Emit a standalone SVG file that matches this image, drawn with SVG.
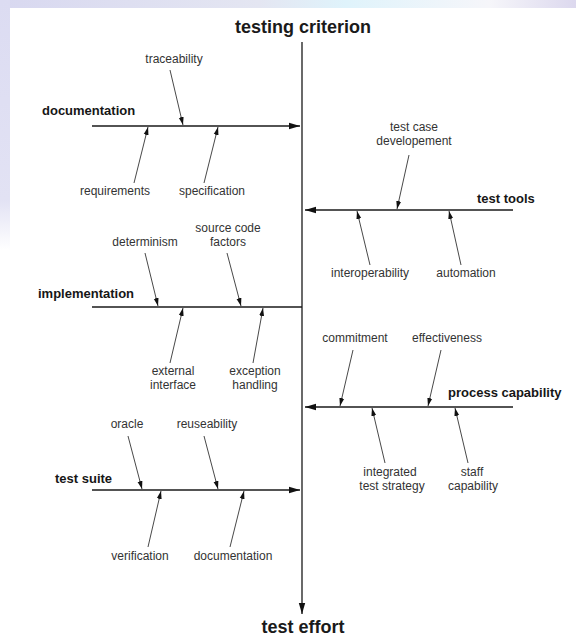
<svg xmlns="http://www.w3.org/2000/svg" width="576" height="639" viewBox="0 0 576 639">
<defs>
<linearGradient id="topband" x1="0" y1="0" x2="1" y2="0">
<stop offset="0" stop-color="#d8d8f0"/>
<stop offset="0.45" stop-color="#e4e6f2"/>
<stop offset="0.6" stop-color="#dff3fb"/>
<stop offset="0.85" stop-color="#f6f6fa"/>
<stop offset="1" stop-color="#dcd8ee"/>
</linearGradient>
<linearGradient id="leftband" x1="0" y1="0" x2="0" y2="1">
<stop offset="0" stop-color="#dcdcf2"/>
<stop offset="0.8" stop-color="#e2e2f4"/>
<stop offset="1" stop-color="#ffffff"/>
</linearGradient>
<marker id="big" markerUnits="userSpaceOnUse" markerWidth="12" markerHeight="8" refX="11" refY="4" orient="auto">
<path d="M0,0.8 L11,4 L0,7.2 Z" fill="#111"/>
</marker>
<marker id="small" markerUnits="userSpaceOnUse" markerWidth="9" markerHeight="6" refX="8" refY="3" orient="auto">
<path d="M0,0.5 L8,3 L0,5.5 Z" fill="#111"/>
</marker>
</defs>
<style>
.bg{fill:#ffffff}
.main{stroke:#1a1a1a;stroke-width:1.3;fill:none}
.sub{stroke:#333;stroke-width:0.9;fill:none}
.t{font-family:"Liberation Sans",Arial,sans-serif;font-size:12px;fill:#333;text-anchor:middle}
.b{font-family:"Liberation Sans",Arial,sans-serif;font-size:13px;font-weight:bold;fill:#161616}
.h{font-family:"Liberation Sans",Arial,sans-serif;font-size:18px;font-weight:bold;fill:#1a1a1a;text-anchor:middle}
</style>
<rect class="bg" x="0" y="0" width="576" height="639"/>
<rect x="0" y="0" width="576" height="8" fill="url(#topband)"/>
<rect x="0" y="0" width="10" height="250" fill="url(#leftband)"/>

<g id="connectors">
<line class="main" x1="302" y1="42" x2="302" y2="614" marker-end="url(#big)"/>
<line class="main" x1="92" y1="126" x2="300" y2="126" marker-end="url(#big)"/>
<line class="main" x1="513" y1="210" x2="305" y2="210" marker-end="url(#big)"/>
<line class="main" x1="92" y1="307" x2="302" y2="307"/>
<line class="main" x1="513" y1="407" x2="305" y2="407" marker-end="url(#big)"/>
<line class="main" x1="92" y1="490" x2="300" y2="490" marker-end="url(#big)"/>

<line class="sub" x1="170" y1="70" x2="183" y2="125" marker-end="url(#small)"/>
<line class="sub" x1="134" y1="183" x2="148" y2="127" marker-end="url(#small)"/>
<line class="sub" x1="204" y1="183" x2="218" y2="127" marker-end="url(#small)"/>

<line class="sub" x1="409" y1="155" x2="397" y2="209" marker-end="url(#small)"/>
<line class="sub" x1="370" y1="265" x2="357" y2="211" marker-end="url(#small)"/>
<line class="sub" x1="461" y1="265" x2="449" y2="211" marker-end="url(#small)"/>

<line class="sub" x1="145" y1="253" x2="158" y2="306" marker-end="url(#small)"/>
<line class="sub" x1="227" y1="253" x2="241" y2="306" marker-end="url(#small)"/>
<line class="sub" x1="170" y1="363" x2="183" y2="308" marker-end="url(#small)"/>
<line class="sub" x1="253" y1="363" x2="263" y2="308" marker-end="url(#small)"/>

<line class="sub" x1="353" y1="350" x2="340" y2="406" marker-end="url(#small)"/>
<line class="sub" x1="441" y1="350" x2="428" y2="406" marker-end="url(#small)"/>
<line class="sub" x1="385" y1="463" x2="372" y2="408" marker-end="url(#small)"/>
<line class="sub" x1="468" y1="463" x2="455" y2="408" marker-end="url(#small)"/>

<line class="sub" x1="128" y1="436" x2="142" y2="489" marker-end="url(#small)"/>
<line class="sub" x1="204" y1="436" x2="218" y2="489" marker-end="url(#small)"/>
<line class="sub" x1="148" y1="547" x2="161" y2="491" marker-end="url(#small)"/>
<line class="sub" x1="230" y1="547" x2="244" y2="491" marker-end="url(#small)"/>
</g>

<g id="testing-criterion"><text class="h" x="303" y="33">testing criterion</text></g>
<g id="test-effort"><text class="h" x="303" y="633">test effort</text></g>

<g id="documentation"><text class="b" x="42" y="115">documentation</text></g>
<g id="traceability"><text class="t" x="174" y="63">traceability</text></g>
<g id="requirements"><text class="t" x="115" y="195">requirements</text></g>
<g id="specification"><text class="t" x="212" y="195">specification</text></g>

<g id="test-tools"><text class="b" x="477" y="203">test tools</text></g>
<g id="test-case-developement"><text class="t" x="414" y="131">test case</text><text class="t" x="414" y="145">developement</text></g>
<g id="interoperability"><text class="t" x="370" y="277">interoperability</text></g>
<g id="automation"><text class="t" x="466" y="277">automation</text></g>

<g id="implementation"><text class="b" x="38" y="298">implementation</text></g>
<g id="determinism"><text class="t" x="145" y="246">determinism</text></g>
<g id="source-code-factors"><text class="t" x="228" y="232">source code</text><text class="t" x="228" y="246">factors</text></g>
<g id="external-interface"><text class="t" x="173" y="375">external</text><text class="t" x="173" y="389">interface</text></g>
<g id="exception-handling"><text class="t" x="255" y="375">exception</text><text class="t" x="255" y="389">handling</text></g>

<g id="process-capability"><text class="b" x="448" y="397">process capability</text></g>
<g id="commitment"><text class="t" x="355" y="342">commitment</text></g>
<g id="effectiveness"><text class="t" x="447" y="342">effectiveness</text></g>
<g id="integrated-test-strategy"><text class="t" x="390" y="476">integrated</text><text class="t" x="392" y="490">test strategy</text></g>
<g id="staff-capability"><text class="t" x="472" y="476">staff</text><text class="t" x="473" y="490">capability</text></g>

<g id="test-suite"><text class="b" x="55" y="483">test suite</text></g>
<g id="oracle"><text class="t" x="127" y="428">oracle</text></g>
<g id="reuseability"><text class="t" x="207" y="428">reuseability</text></g>
<g id="verification"><text class="t" x="140" y="560">verification</text></g>
<g id="documentation-2"><text class="t" x="233" y="560">documentation</text></g>
</svg>
